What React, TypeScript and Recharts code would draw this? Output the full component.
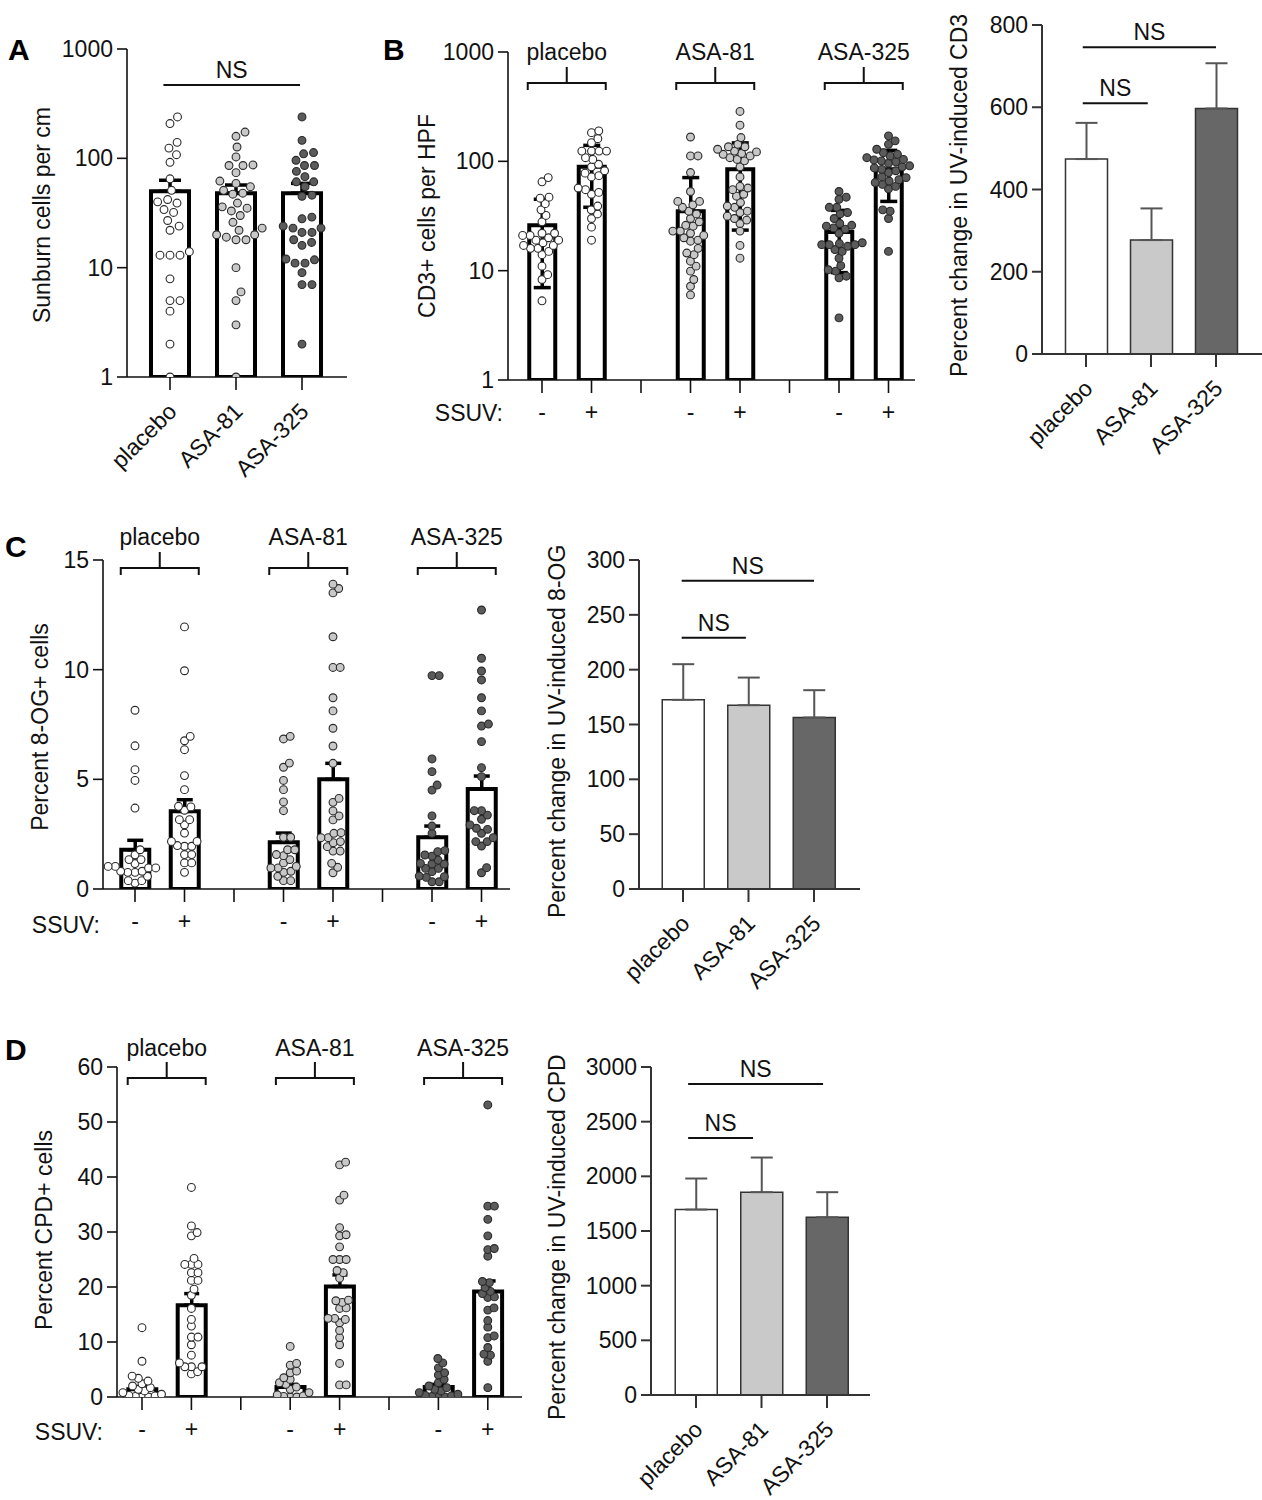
import React from 'react';
import { ComposedChart, Bar, Scatter, XAxis, YAxis, ErrorBar, Cell, ReferenceLine } from 'recharts';

const FONT = '"Liberation Sans", Arial, Helvetica, sans-serif';
const INK = '#111';

const GROUPS = ['placebo', 'ASA-81', 'ASA-325'];
const SSUV = ['-', '+'];
const DOT_FILLS = ['#ffffff', '#c8c8c8', '#5b5b5b'];
const BAR_FILLS = ['#ffffff', '#c9c9c9', '#676767'];

// A: sunburn cells per cm (log axis)
const sunburnMean = [50, 48, 48];
const sunburnSem = [13, 9, 11];
const sunburnPlacebo = [239, 208, 140, 124, 108, 92, 65, 51, 42, 40, 39, 34, 32, 27, 24, 22, 14, 13, 13, 13, 7.9, 5.0, 5.0, 4.0, 2.0, 1];
const sunburnAsa81 = [174, 159, 127, 103, 87, 86, 86, 74, 62, 59, 55, 51, 48, 47, 39, 36, 35, 33, 30, 26, 23, 22, 20, 20, 19, 18, 18, 10, 6.0, 5.0, 3.0, 1];
const sunburnAsa325 = [239, 146, 113, 110, 96, 86, 86, 76, 68, 61, 61, 55, 46, 45, 29, 28, 24, 23, 23, 21, 21, 18, 17, 16, 12, 11.8, 11, 11, 9.0, 7.0, 7.0, 2.0];
const sunburnNs = [{ from: -0.1, to: 1.97, y: 468 }];

// B: CD3+ cells per HPF (log axis), order placebo -/+, ASA-81 -/+, ASA-325 -/+
const cd3Mean = [26, 89, 35, 84.5, 22.6, 84.5];
const cd3SdLow = [19, 51, 0, 61, 13, 41.5];
const cd3SdHigh = [19, 51, 36, 63, 13, 41.5];
const cd3PlaceboMinus = [71, 65, 47, 46, 41, 36, 32, 28, 22, 22, 21, 21, 20, 19, 19, 18, 17, 17, 16, 16, 15, 14, 11, 9.2, 8.3, 5.3];
const cd3PlaceboPlus = [190, 183, 161, 148, 124, 124, 124, 124, 108, 104, 94, 89, 82, 78, 74, 72, 57, 55, 52, 50, 39, 36, 33, 30, 25, 19];
const cd3Asa81Minus = [167, 112, 112, 79, 53, 43, 43, 40, 38, 35, 33, 30, 28, 26, 25.5, 23, 23, 22, 21, 20, 19, 18.6, 16, 14.5, 14, 12.2, 11, 9.9, 8.3, 7.2, 6.0];
const cd3Asa81Plus = [286, 214, 165, 143, 136, 136, 129, 124, 122, 118, 116, 112, 108, 104, 101, 89, 72, 59, 57, 55, 50, 48, 42, 39, 38, 35, 34, 31.5, 30, 29, 27, 23, 17, 13];
const cd3Asa325Minus = [53, 47, 45, 38, 38, 34, 33, 30, 27, 26, 25.5, 24.6, 24, 22, 18, 17.7, 17.3, 17.3, 17.3, 16.7, 15.6, 15, 13, 11.1, 10.2, 9.9, 8.9, 8.6, 3.7];
const cd3Asa325Plus = [171, 154, 143, 129, 120, 116, 112, 108, 104, 103, 101, 99, 96, 91, 89, 87, 84.5, 82, 79, 72, 71, 68, 66, 64, 61.5, 59, 56, 36, 35, 30, 15];

// top right: percent change in UV-induced CD3
const cd3Change = [474, 277, 597];
const cd3ChangeSem = [88, 77, 110];
const cd3ChangeNs = [{ from: -0.05, to: 2, y: 746 }, { from: -0.05, to: 0.95, y: 610 }];

// C: percent 8-OG+ cells
const ogMean = [1.79, 3.54, 2.13, 5.0, 2.36, 4.56];
const ogSem = [0.43, 0.53, 0.42, 0.73, 0.51, 0.59];
const ogPlaceboMinus = [8.15, 6.53, 5.44, 4.95, 3.69, 1.79, 1.56, 1.34, 1.34, 1.16, 1.03, 1.03, 0.96, 0.96, 0.81, 0.81, 0.76, 0.76, 0.58, 0.38, 0.38, 0.27];
const ogPlaceboPlus = [11.95, 9.95, 6.96, 6.76, 6.35, 5.17, 4.53, 3.77, 3.74, 3.59, 3.16, 3.16, 2.93, 2.55, 2.17, 2.17, 1.98, 1.95, 1.95, 1.57, 1.57, 1.19, 1.19, 0.76];
const ogAsa81Minus = [6.96, 6.84, 5.74, 5.55, 4.95, 4.53, 3.97, 3.57, 2.36, 2.36, 1.79, 1.79, 1.57, 1.52, 1.34, 1.19, 1.03, 0.96, 0.96, 0.81, 0.76, 0.58, 0.38, 0.38];
const ogAsa81Plus = [13.9, 13.7, 13.5, 11.5, 10.1, 10.1, 8.72, 8.12, 7.33, 6.52, 5.73, 4.13, 3.95, 3.56, 3.33, 3.15, 2.57, 2.54, 2.34, 2.34, 2.16, 2.11, 1.93, 1.73, 1.73, 1.17, 0.99, 0.74];
const ogAsa325Minus = [9.73, 9.73, 5.93, 5.35, 4.74, 4.51, 3.33, 2.87, 2.54, 1.75, 1.7, 1.55, 1.5, 1.32, 1.17, 1.14, 1.14, 0.94, 0.94, 0.79, 0.59, 0.56, 0.53, 0.33, 0.33];
const ogAsa325Plus = [12.72, 10.52, 9.94, 9.53, 8.72, 8.12, 7.52, 7.43, 6.72, 5.53, 5.12, 3.57, 3.57, 3.37, 3.18, 2.92, 2.77, 2.72, 2.54, 2.34, 2.16, 2.16, 1.96, 0.97, 0.74];

// C right: percent change in UV-induced 8-OG
const ogChange = [172.5, 167.6, 156.4];
const ogChangeSem = [32.5, 25.2, 24.9];
const ogChangeNs = [{ from: -0.02, to: 2, y: 281 }, { from: -0.02, to: 0.96, y: 229 }];

// D: percent CPD+ cells
const cpdMean = [1.4, 16.7, 1.8, 20.1, 1.8, 19.2];
const cpdSem = [0.5, 2.1, 0.5, 2.1, 0.5, 1.9];
const cpdPlaceboMinus = [12.6, 6.5, 3.8, 3.4, 2.9, 2.4, 2.0, 1.7, 1.4, 1.1, 0.8, 0.5, 0.3, 0.2, 0.1, 0, 0];
const cpdPlaceboPlus = [38.1, 31.1, 29.9, 29.3, 25.2, 24.1, 24.1, 24.1, 22.6, 22.6, 21.2, 21.2, 19.6, 18.5, 16.1, 14.1, 12.9, 10.9, 10.9, 9.5, 7.6, 6.2, 5.5, 5.5, 5.5, 4.6, 4.2];
const cpdAsa81Minus = [9.2, 6.1, 5.8, 4.7, 4.4, 3.5, 3.2, 2.6, 2.3, 1.8, 1.4, 0.8, 0.4, 0.2, 0.1, 0, 0];
const cpdAsa81Plus = [42.7, 42.2, 36.7, 35.8, 30.8, 29.5, 29.3, 27.3, 25.0, 25.0, 25.0, 23.0, 22.6, 21.6, 17.6, 17.5, 17.2, 16.2, 16.1, 14.3, 14.3, 14.1, 13.5, 12.1, 10.8, 9.5, 6.1, 2.2, 2.2];
const cpdAsa325Minus = [7.0, 6.2, 5.3, 4.4, 4.0, 3.2, 2.6, 2.0, 1.7, 1.4, 1.1, 0.8, 0.5, 0.3, 0.2, 0.1, 0, 0];
const cpdAsa325Plus = [53.1, 34.7, 34.7, 32.3, 29.3, 27.0, 26.8, 25.6, 21.0, 20.8, 19.9, 19.2, 18.8, 18.2, 18.1, 16.2, 15.8, 13.9, 12.7, 11.1, 10.8, 9.0, 7.8, 7.6, 6.5, 1.7];

// D right: percent change in UV-induced CPD
const cpdChange = [1696, 1855, 1626];
const cpdChangeSem = [284, 317, 229];
const cpdChangeNs = [{ from: -0.12, to: 1.94, y: 2845 }, { from: -0.12, to: 0.87, y: 2350 }];

const SIX_SLOTS = [0, 1, 3, 4, 6, 7];
const SIX_TICKS = [0, 1, 2, 3, 4, 5, 6, 7];

type NS = { from: number; to: number; y: number };

// spread the dots of one column sideways so they do not overlap (beeswarm)
function swarm(values: number[], center: number, toPx: (v: number) => number, step: number, d: number) {
  const placed: { dx: number; py: number }[] = [];
  const pts: { x: number; y: number }[] = [];
  const sorted = [...values].sort((a, b) => a - b);
  for (const v of sorted) {
    const py = toPx(v);
    const near = placed.filter(q => Math.abs(q.py - py) < d);
    const cands = [0];
    for (const q of near) {
      const w = Math.sqrt(d * d - (q.py - py) ** 2);
      cands.push(q.dx + w, q.dx - w);
    }
    cands.sort((a, b) => Math.abs(a) - Math.abs(b) || b - a);
    const dx = cands.find(c => near.every(q => (q.dx - c) ** 2 + (q.py - py) ** 2 >= d * d - 0.01)) ?? 0;
    placed.push({ dx, py });
    pts.push({ x: center + dx / step, y: v });
  }
  return pts;
}

const rotatedTick = (props: any) => {
  const { x, y, payload } = props;
  const label = GROUPS[payload.value] ?? '';
  const ax = x + 8;
  const ay = y + 12;
  return (
    <text x={ax} y={ay} transform={`rotate(-45 ${ax} ${ay})`} textAnchor="end" fontSize={23} fontFamily={FONT} fill={INK}>
      {label}
    </text>
  );
};

const dotShape = (fill: string) => (s: any) => (
  <circle cx={s.cx} cy={s.cy} r={3.9} fill={fill} stroke="#2a2a2a" strokeWidth={1.1} />
);

type PanelProps = {
  left: number; top: number; right: number; bottom: number;
  x0: number; step: number;
  yDomain: [number, number]; yTicks: number[]; log?: boolean;
  xTicks: number[]; rotated?: boolean;
  slots: number[]; means: number[]; errLow: number[]; errHigh: number[];
  dots?: number[][]; dotFills?: string[]; gap?: number;
  barFills: string[]; barSize: number; barStroke: string; barStrokeWidth: number;
  errColor: string; errWidth: number; cap: number;
  axisColor: string; axisWidth: number;
  ns?: NS[];
};

function Panel(p: PanelProps) {
  const YW = 100, MT = 20, MR = 2, XH = 130;
  const plotW = p.right - p.left;
  const plotH = p.bottom - p.top;
  const xDomain: [number, number] = [(p.left - p.x0) / p.step, (p.right - p.x0) / p.step];
  const [d0, d1] = p.yDomain;
  const toPx = (v: number) =>
    p.log
      ? plotH * (1 - (Math.log10(v) - Math.log10(d0)) / (Math.log10(d1) - Math.log10(d0)))
      : plotH * (1 - (v - d0) / (d1 - d0));
  const barData = p.slots.map((s, i) => ({ x: s, mean: p.means[i], err: [p.errLow[i], p.errHigh[i]] }));
  const axisLine = { stroke: p.axisColor, strokeWidth: p.axisWidth };
  const tickStyle = { fontSize: 23, fill: INK, fontFamily: FONT };

  return (
    <div style={{ position: 'absolute', left: p.left - YW, top: p.top - MT }}>
      <ComposedChart
        width={YW + plotW + MR}
        height={MT + plotH + XH}
        data={barData}
        margin={{ top: MT, right: MR, bottom: 0, left: 0 }}
      >
        <XAxis
          type="number"
          dataKey="x"
          domain={xDomain}
          allowDataOverflow
          ticks={p.xTicks}
          interval={0}
          height={XH}
          tickSize={13}
          tickMargin={11}
          axisLine={axisLine}
          tickLine={axisLine}
          tick={p.rotated ? rotatedTick : tickStyle}
          tickFormatter={(v: number) => (v % 3 === 2 ? '' : SSUV[v % 3])}
        />
        <XAxis xAxisId="dots" type="number" dataKey="x" domain={xDomain} allowDataOverflow hide height={XH} />
        <YAxis
          type="number"
          scale={p.log ? 'log' : 'linear'}
          domain={p.yDomain}
          allowDataOverflow
          ticks={p.yTicks}
          interval={0}
          width={YW}
          tickSize={10}
          tickMargin={4}
          axisLine={axisLine}
          tickLine={axisLine}
          tick={tickStyle}
        />
        <Bar
          dataKey="mean"
          barSize={p.barSize}
          stroke={p.barStroke}
          strokeWidth={p.barStrokeWidth}
          isAnimationActive={false}
        >
          {barData.map((_, i) => (
            <Cell key={i} fill={p.barFills[i]} />
          ))}
          <ErrorBar dataKey="err" width={p.cap} stroke={p.errColor} strokeWidth={p.errWidth} />
        </Bar>
        {(p.dots || []).map((vals, i) => (
          <Scatter
            key={i}
            xAxisId="dots"
            data={swarm(vals, p.slots[i], toPx, p.step, p.gap ?? 7)}
            dataKey="y"
            isAnimationActive={false}
            shape={dotShape(p.dotFills ? p.dotFills[i] : '#fff')}
          />
        ))}
        {(p.ns || []).map((n, i) => (
          <ReferenceLine
            key={i}
            segment={[{ x: n.from, y: n.y }, { x: n.to, y: n.y }]}
            stroke={INK}
            strokeWidth={2}
            ifOverflow="visible"
            label={{ value: 'NS', position: 'top', fill: INK, fontSize: 23, fontFamily: FONT, offset: 7 }}
          />
        ))}
      </ComposedChart>
    </div>
  );
}

const leftStyle = {
  barStroke: '#000', barStrokeWidth: 4, errColor: '#000', errWidth: 3.5,
  axisColor: '#111', axisWidth: 1.6,
};
const rightStyle = {
  barStroke: '#333', barStrokeWidth: 1.5, errColor: '#555', errWidth: 2, cap: 11, barSize: 42,
  axisColor: '#333', axisWidth: 2, barFills: BAR_FILLS, xTicks: [0, 1, 2], slots: [0, 1, 2], rotated: true,
};
const whiteSix = SIX_SLOTS.map(() => '#fff');
const sixDotFills = SIX_SLOTS.map((_, i) => DOT_FILLS[Math.floor(i / 2)]);
const zeros6 = SIX_SLOTS.map(() => 0);

function Headers({ x0, step, textY, bracketY }: { x0: number; step: number; textY: number; bracketY: number }) {
  return (
    <g>
      {GROUPS.map((g, i) => {
        const cx = x0 + step * (3 * i + 0.5);
        return (
          <g key={g}>
            <text x={cx} y={textY} textAnchor="middle" fontSize={23} fontFamily={FONT} fill={INK}>{g}</text>
            <path
              d={`M${cx - 39},${bracketY + 7} V${bracketY} H${cx + 39} V${bracketY + 7} M${cx},${bracketY} V${bracketY - 16}`}
              fill="none"
              stroke={INK}
              strokeWidth={2}
            />
          </g>
        );
      })}
    </g>
  );
}

function VLabel({ x, y, text, anchor }: { x: number; y: number; text: string; anchor: 'start' | 'middle' }) {
  return (
    <text x={x} y={y} transform={`rotate(-90 ${x} ${y})`} textAnchor={anchor} fontSize={23} fontFamily={FONT} fill={INK}>
      {text}
    </text>
  );
}

function Overlay() {
  const letter = (t: string, x: number, y: number) => (
    <text x={x} y={y} fontSize={30} fontWeight="bold" fontFamily={FONT} fill="#000">{t}</text>
  );
  const ssuv = (x: number, y: number) => (
    <text x={x} y={y} textAnchor="end" fontSize={23} fontFamily={FONT} fill={INK}>SSUV:</text>
  );
  return (
    <svg width={1262} height={1500} style={{ position: 'absolute', left: 0, top: 0, pointerEvents: 'none' }}>
      {letter('A', 8, 60)}
      {letter('B', 383, 60)}
      {letter('C', 5, 557)}
      {letter('D', 5, 1060)}
      <VLabel x={50} y={215} text="Sunburn cells per cm" anchor="middle" />
      <VLabel x={435} y={216} text="CD3+ cells per HPF" anchor="middle" />
      <VLabel x={967} y={377} text="Percent change in UV-induced CD3" anchor="start" />
      <VLabel x={48} y={727} text="Percent 8-OG+ cells" anchor="middle" />
      <VLabel x={565} y={918} text="Percent change in UV-induced 8-OG" anchor="start" />
      <VLabel x={52} y={1230} text="Percent CPD+ cells" anchor="middle" />
      <VLabel x={565} y={1420} text="Percent change in UV-induced CPD" anchor="start" />
      <Headers x0={542} step={49.5} textY={60} bracketY={83} />
      <Headers x0={135} step={49.5} textY={545} bracketY={568} />
      <Headers x0={142} step={49.4} textY={1056} bracketY={1078} />
      {ssuv(503, 421)}
      {ssuv(100, 933)}
      {ssuv(103, 1440)}
    </svg>
  );
}

export default function App() {
  return (
    <div style={{ position: 'absolute', left: 0, top: 0, width: 1262, height: 1500, background: '#fff', overflow: 'hidden' }}>
      <Panel
        {...leftStyle}
        left={127} top={49} right={347} bottom={377} x0={170} step={66}
        yDomain={[1, 1000]} yTicks={[1, 10, 100, 1000]} log
        xTicks={[0, 1, 2]} rotated
        slots={[0, 1, 2]} means={sunburnMean} errLow={[0, 0, 0]} errHigh={sunburnSem}
        dots={[sunburnPlacebo, sunburnAsa81, sunburnAsa325]} dotFills={DOT_FILLS} gap={10}
        barFills={['#fff', '#fff', '#fff']} barSize={38} cap={11}
        ns={sunburnNs}
      />
      <Panel
        {...leftStyle}
        left={508} top={52} right={915} bottom={380} x0={542} step={49.5}
        yDomain={[1, 1000]} yTicks={[1, 10, 100, 1000]} log
        xTicks={SIX_TICKS}
        slots={SIX_SLOTS} means={cd3Mean} errLow={cd3SdLow} errHigh={cd3SdHigh}
        dots={[cd3PlaceboMinus, cd3PlaceboPlus, cd3Asa81Minus, cd3Asa81Plus, cd3Asa325Minus, cd3Asa325Plus]}
        dotFills={sixDotFills} gap={7.5}
        barFills={whiteSix} barSize={26} cap={8.5}
      />
      <Panel
        {...rightStyle}
        left={1042} top={25} right={1262} bottom={354} x0={1086} step={65}
        yDomain={[0, 800]} yTicks={[0, 200, 400, 600, 800]}
        means={cd3Change} errLow={[0, 0, 0]} errHigh={cd3ChangeSem}
        ns={cd3ChangeNs}
      />
      <Panel
        {...leftStyle}
        left={103} top={560} right={510} bottom={889} x0={135} step={49.5}
        yDomain={[0, 15]} yTicks={[0, 5, 10, 15]}
        xTicks={SIX_TICKS}
        slots={SIX_SLOTS} means={ogMean} errLow={zeros6} errHigh={ogSem}
        dots={[ogPlaceboMinus, ogPlaceboPlus, ogAsa81Minus, ogAsa81Plus, ogAsa325Minus, ogAsa325Plus]}
        dotFills={sixDotFills} gap={7.2}
        barFills={whiteSix} barSize={28} cap={8}
      />
      <Panel
        {...rightStyle}
        left={639} top={560} right={860} bottom={889} x0={683} step={65.5}
        yDomain={[0, 300]} yTicks={[0, 50, 100, 150, 200, 250, 300]}
        means={ogChange} errLow={[0, 0, 0]} errHigh={ogChangeSem}
        ns={ogChangeNs}
      />
      <Panel
        {...leftStyle}
        left={117} top={1067} right={522} bottom={1397} x0={142} step={49.4}
        yDomain={[0, 60]} yTicks={[0, 10, 20, 30, 40, 50, 60]}
        xTicks={SIX_TICKS}
        slots={SIX_SLOTS} means={cpdMean} errLow={zeros6} errHigh={cpdSem}
        dots={[cpdPlaceboMinus, cpdPlaceboPlus, cpdAsa81Minus, cpdAsa81Plus, cpdAsa325Minus, cpdAsa325Plus]}
        dotFills={sixDotFills} gap={6.6}
        barFills={whiteSix} barSize={28} cap={7.5}
      />
      <Panel
        {...rightStyle}
        left={651} top={1067} right={870} bottom={1395} x0={696} step={65.5}
        yDomain={[0, 3000]} yTicks={[0, 500, 1000, 1500, 2000, 2500, 3000]}
        means={cpdChange} errLow={[0, 0, 0]} errHigh={cpdChangeSem}
        ns={cpdChangeNs}
      />
      <Overlay />
    </div>
  );
}
